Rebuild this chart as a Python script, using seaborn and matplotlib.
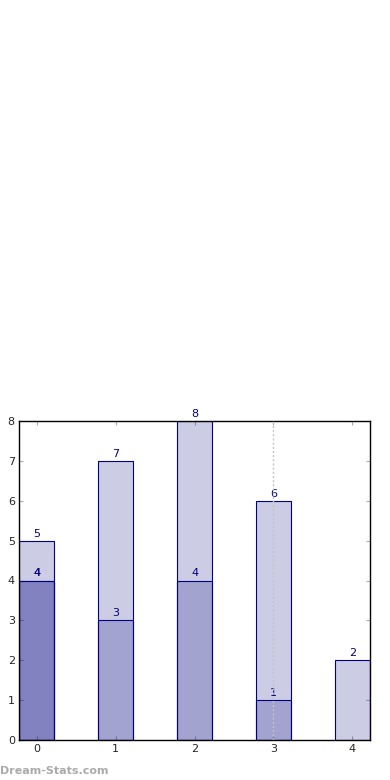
import matplotlib
matplotlib.use("Agg")
import matplotlib.pyplot as plt
import seaborn as sns

# overlapping (not stacked) bar series, drawn back to front
categories = ["0", "1", "2", "3", "4"]
series_a = [5, 7, 8, 6, 2]
series_b_cats = ["0", "1", "2", "3"]
series_b = [4, 3, 4, 1]
series_c_cats = ["0"]
series_c = [4]
marker_x = 3

sns.set_style("white")
plt.rcParams["font.family"] = ["DejaVu Sans"]

fig = plt.figure(figsize=(3.9, 7.8), dpi=100)
ax = fig.add_axes([19 / 390, 40 / 780, 351 / 390, 319 / 780])

layers = [(categories, series_a), (series_b_cats, series_b), (series_c_cats, series_c)]
for cats, vals in layers:
    sns.barplot(x=cats, y=vals, order=categories, width=0.45, color="navy",
                saturation=1, errorbar=None, ax=ax)

for container in ax.containers:
    for bar in container:
        bar.set_facecolor((0, 0, 0.5, 0.2))
        bar.set_edgecolor("navy")
        bar.set_linewidth(0.8)
    ax.bar_label(container, padding=1.5, fontsize=8, color="navy")

ax.axvline(marker_x, color="#c4c4c4", linestyle=(0, (1.5, 1.5)), linewidth=1, zorder=5)

ax.set_xlim(-0.225, 4.225)
ax.set_ylim(0, 8)
ax.set_yticks(range(9))
ax.tick_params(direction="in", length=3, color="#aaaaaa", labelsize=8,
               top=True, right=True, bottom=True, left=True, pad=3)
for spine in ax.spines.values():
    spine.set_color("black")
    spine.set_linewidth(1)
ax.set_xlabel("")
ax.set_ylabel("")

fig.text(0.0, 0.005, "Dream-Stats.com", fontsize=8, color="#aaaaaa",
         fontweight="bold", ha="left", va="bottom")

fig.savefig("out.png", dpi=100)
